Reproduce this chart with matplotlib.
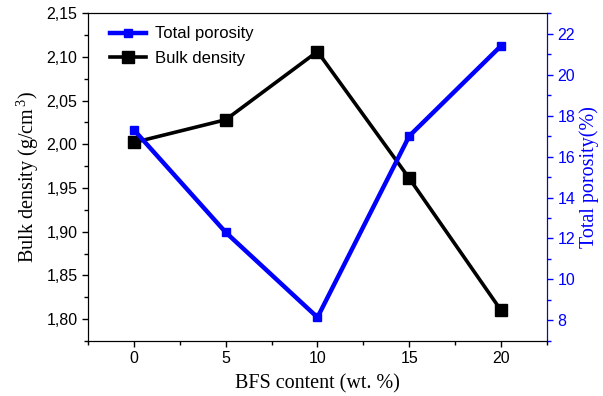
import matplotlib.pyplot as plt
from matplotlib.ticker import MultipleLocator

# dados
bfs = [0, 5, 10, 15, 20]
densidade = [2.002, 2.028, 2.106, 1.961, 1.810]
porosidade = [17.3, 12.3, 8.15, 17.0, 21.4]
ticks_dens = [1.80, 1.85, 1.90, 1.95, 2.00, 2.05, 2.10, 2.15]
rotulos_dens = ['1,80', '1,85', '1,90', '1,95', '2,00', '2,05', '2,10', '2,15']
ticks_por = [8, 10, 12, 14, 16, 18, 20, 22]

plt.rcParams['font.family'] = ['Liberation Sans', 'DejaVu Sans']
plt.rcParams['mathtext.fontset'] = 'custom'
plt.rcParams['mathtext.rm'] = 'Liberation Serif'

fig = plt.figure(figsize=(6.03, 3.96), dpi=100)
ax = fig.add_axes([0.146, 0.139, 0.761, 0.828])
ax2 = ax.twinx()

l1, = ax2.plot(bfs, porosidade, color='blue', lw=3.2, marker='s', ms=6, label='Total porosity')
l2, = ax.plot(bfs, densidade, color='black', lw=2.6, marker='s', ms=8.5, label='Bulk density')

ax.set_xlim(-2.5, 22.5)
ax.set_ylim(1.775, 2.15)
ax2.set_ylim(7, 23)

ax.xaxis.set_major_locator(MultipleLocator(5))
ax.xaxis.set_minor_locator(MultipleLocator(2.5))
ax.set_yticks(ticks_dens)
ax.set_yticklabels(rotulos_dens)
ax.yaxis.set_minor_locator(MultipleLocator(0.025))
ax2.set_yticks(ticks_por)
ax2.yaxis.set_minor_locator(MultipleLocator(1))

ax.tick_params(which='both', direction='out', labelsize=11.5, top=False)
ax.tick_params(which='major', length=4, width=1)
ax.tick_params(which='minor', length=3, width=1)
ax2.tick_params(which='both', direction='out', colors='blue', labelsize=11.5)
ax2.tick_params(which='major', length=4, width=1)
ax2.tick_params(which='minor', length=3, width=1)
ax2.spines['right'].set_color('blue')

ax.set_xlabel('BFS content (wt. %)', family='Liberation Serif', fontsize=14.5, labelpad=6)
ax.set_ylabel('Bulk density (g/cm$^{\\,3}$)', family='Liberation Serif', fontsize=14.5, labelpad=4)
ax2.set_ylabel('Total porosity(%)', family='Liberation Serif', fontsize=14.5, color='blue', labelpad=3)

ax.legend([l1, l2], ['Total porosity', 'Bulk density'], loc='upper left', frameon=False,
          bbox_to_anchor=(0.018, 1.0), fontsize=12, handlelength=2.2, borderaxespad=0.4,
          labelspacing=0.55, handletextpad=0.5)

plt.savefig('out.png', dpi=100)
